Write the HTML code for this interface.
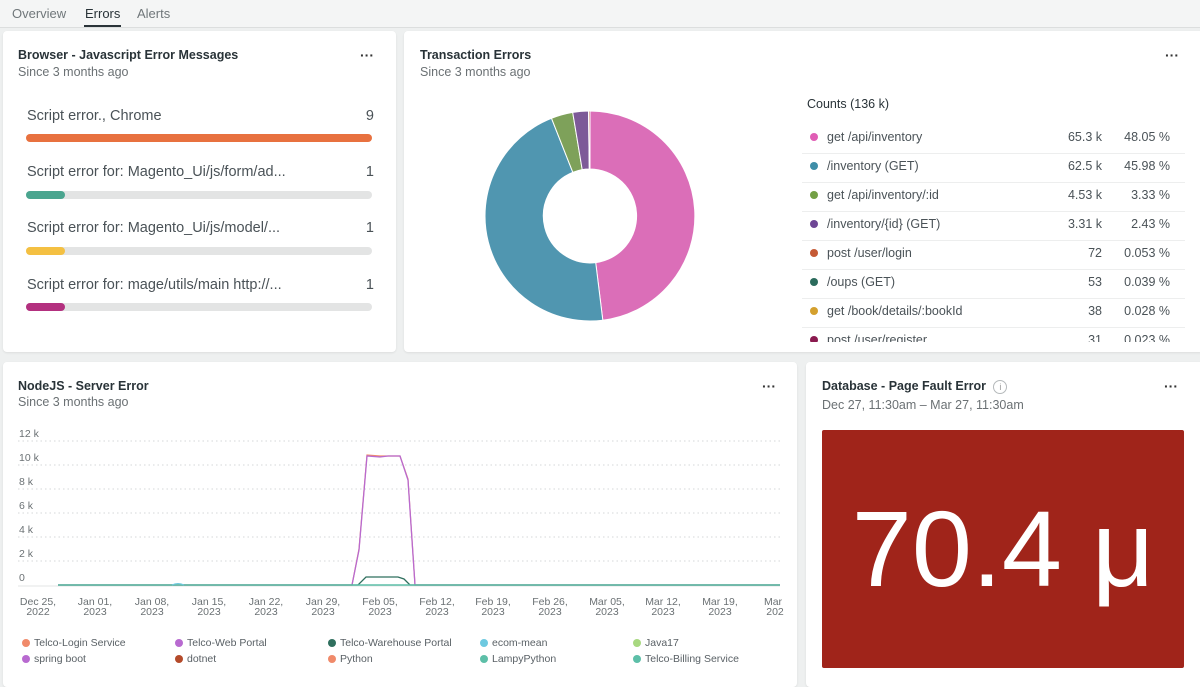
<!DOCTYPE html>
<html><head><meta charset="utf-8"><style>
body{margin:0;width:1200px;height:683px;background:#eef0f0;font-family:"Liberation Sans",sans-serif;position:relative;overflow:hidden;color:#293338}
.tabs{position:absolute;left:0;top:0;width:1200px;height:27px;background:#f4f5f5;border-bottom:1px solid #dcdede}
.tab{position:absolute;top:6px;font-size:13px;color:#70777a}
.card{position:absolute;background:#fff;border-radius:4px;box-shadow:0 1px 2px rgba(0,0,0,.08)}
.t{position:absolute;font-size:12.5px;font-weight:bold;color:#293338}
.s{position:absolute;font-size:12.5px;color:#6b7174}
.dots{position:absolute;font-size:14px;font-weight:bold;letter-spacing:0px;color:#333}
.row{position:absolute;left:24px;width:347px;font-size:14.5px;color:#4a5257}
.bar{position:absolute;left:26px;width:346px;height:8px;border-radius:4px;background:#e3e4e4}
.lg{position:absolute;font-size:12.5px;color:#4a5257;width:383px}
.lg div{position:relative;height:28px;border-bottom:1px solid #edeeee}
.lg i{position:absolute;left:8px;top:8px;width:8px;height:8px;border-radius:50%}
.lg span{position:absolute;top:5px}
.lg span.v{right:83px}
.lg span.p{right:15px}
.leg{position:absolute;font-size:10.5px;color:#5a6166}
.leg i{display:inline-block;width:8px;height:8px;border-radius:50%;margin-right:4px;vertical-align:-1px}
</style></head><body>
<div class="tabs">
<span class="tab" style="left:12px">Overview</span>
<span class="tab" style="left:85px;color:#293338">Errors</span>
<div style="position:absolute;left:84px;top:25px;width:37px;height:2px;background:#293338"></div>
<span class="tab" style="left:137px">Alerts</span>
</div>

<div class="card" style="left:3px;top:31px;width:393px;height:321px">
<div class="t" style="left:15px;top:17px">Browser - Javascript Error Messages</div>
<div class="s" style="left:15px;top:34px">Since 3 months ago</div>
<div class="dots" style="left:357px;top:16px">···</div>
<div class="row" style="top:77px">Script error., Chrome<span style="float:right">9</span></div>
<div class="bar" style="top:103px;background:#e8713f;left:23px"></div>
<div class="row" style="top:133px">Script error for: Magento_Ui/js/form/ad...<span style="float:right">1</span></div>
<div class="bar" style="top:160px;left:23px"><div style="width:39px;height:8px;border-radius:4px;background:#4aa58f"></div></div>
<div class="row" style="top:189px">Script error for: Magento_Ui/js/model/...<span style="float:right">1</span></div>
<div class="bar" style="top:216px;left:23px"><div style="width:39px;height:8px;border-radius:4px;background:#f4c042"></div></div>
<div class="row" style="top:246px">Script error for: mage/utils/main http://...<span style="float:right">1</span></div>
<div class="bar" style="top:272px;left:23px"><div style="width:39px;height:8px;border-radius:4px;background:#b3307f"></div></div>
</div>

<div class="card" style="left:404px;top:31px;width:800px;height:321px">
<div class="t" style="left:16px;top:17px">Transaction Errors</div>
<div class="s" style="left:16px;top:34px">Since 3 months ago</div>
<div class="dots" style="left:761px;top:16px">···</div>
</div>
<svg style="position:absolute;left:0;top:0" width="1200" height="683">
<g stroke="#fff" stroke-width="1">
<path d="M590,111 A105,105 0 0 1 602.8,320.2 L595.7,262.6 A47,47 0 0 0 590,169 Z" fill="#db6eb8"/>
<path d="M602.8,320.2 A105,105 0 0 1 551.5,118.3 L572.8,172.3 A47,47 0 0 0 595.7,262.6 Z" fill="#5096b0"/>
<path d="M551.5,118.3 A105,105 0 0 1 572.7,112.4 L582.2,169.6 A47,47 0 0 0 572.8,172.3 Z" fill="#7ea15a"/>
<path d="M572.7,112.4 A105,105 0 0 1 588.5,111 L589.3,169 A47,47 0 0 0 582.2,169.6 Z" fill="#7d5a98"/>
<path d="M588.5,111 A105,105 0 0 1 590,111 L590,169 A47,47 0 0 0 589.3,169 Z" fill="#c2664a"/>
</g>
</svg>
<div style="position:absolute;left:807px;top:97px;font-size:12.5px;color:#293338">Counts (136 k)</div>
<div class="lg" style="left:802px;top:125px">
<div><i style="background:#e05db5"></i><span style="left:25px">get /api/inventory</span><span class="v">65.3 k</span><span class="p">48.05 %</span></div>
<div><i style="background:#3f8ea8"></i><span style="left:25px">/inventory (GET)</span><span class="v">62.5 k</span><span class="p">45.98 %</span></div>
<div><i style="background:#74a045"></i><span style="left:25px">get /api/inventory/:id</span><span class="v">4.53 k</span><span class="p">3.33 %</span></div>
<div><i style="background:#6e4695"></i><span style="left:25px">/inventory/{id} (GET)</span><span class="v">3.31 k</span><span class="p">2.43 %</span></div>
<div><i style="background:#c55a35"></i><span style="left:25px">post /user/login</span><span class="v">72</span><span class="p">0.053 %</span></div>
<div><i style="background:#2b6b5c"></i><span style="left:25px">/oups (GET)</span><span class="v">53</span><span class="p">0.039 %</span></div>
<div><i style="background:#d4a02e"></i><span style="left:25px">get /book/details/:bookId</span><span class="v">38</span><span class="p">0.028 %</span></div>
<div style="height:14px;overflow:hidden;border:none"><i style="background:#8a1a4f"></i><span style="left:25px">post /user/register</span><span class="v">31</span><span class="p">0.023 %</span></div>
</div>

<div class="card" style="left:3px;top:362px;width:794px;height:325px">
<div class="t" style="left:15px;top:17px">NodeJS - Server Error</div>
<div class="s" style="left:15px;top:33px">Since 3 months ago</div>
<div class="dots" style="left:759px;top:16px">···</div>
</div>
<svg style="position:absolute;left:0;top:0" width="800" height="683" font-family="Liberation Sans, sans-serif" font-size="10.5" fill="#6b7174">
<g stroke="#d5d7d8" stroke-dasharray="1.5,3">
<line x1="18" x2="780" y1="441" y2="441"/><line x1="18" x2="780" y1="465" y2="465"/>
<line x1="18" x2="780" y1="489" y2="489"/><line x1="18" x2="780" y1="513" y2="513"/>
<line x1="18" x2="780" y1="537" y2="537"/><line x1="18" x2="780" y1="561" y2="561"/>
</g>
<line x1="18" x2="780" y1="586" y2="586" stroke="#e3e4e4"/>
<text x="19" y="437">12 k</text><text x="19" y="461">10 k</text><text x="19" y="485">8 k</text>
<text x="19" y="509">6 k</text><text x="19" y="533">4 k</text><text x="19" y="557">2 k</text><text x="19" y="581">0</text>
<g text-anchor="middle">
<text x="38" y="605">Dec 25,</text><text x="38" y="615">2022</text>
<text x="95" y="605">Jan 01,</text><text x="95" y="615">2023</text>
<text x="152" y="605">Jan 08,</text><text x="152" y="615">2023</text>
<text x="209" y="605">Jan 15,</text><text x="209" y="615">2023</text>
<text x="266" y="605">Jan 22,</text><text x="266" y="615">2023</text>
<text x="323" y="605">Jan 29,</text><text x="323" y="615">2023</text>
<text x="380" y="605">Feb 05,</text><text x="380" y="615">2023</text>
<text x="437" y="605">Feb 12,</text><text x="437" y="615">2023</text>
<text x="493" y="605">Feb 19,</text><text x="493" y="615">2023</text>
<text x="550" y="605">Feb 26,</text><text x="550" y="615">2023</text>
<text x="607" y="605">Mar 05,</text><text x="607" y="615">2023</text>
<text x="663" y="605">Mar 12,</text><text x="663" y="615">2023</text>
<text x="720" y="605">Mar 19,</text><text x="720" y="615">2023</text>
<text x="773" y="605">Mar</text><text x="775" y="615">202</text>
</g>
<polyline fill="none" stroke="#f08a6a" stroke-width="1.2" points="58,585 352,585 359,549 367,455 380,456 388,456 400,456 408,479 415,585 780,585"/>
<polyline fill="none" stroke="#b86ad0" stroke-width="1.3" points="58,585 352,585 359,550 367,456 380,457 388,456 400,456 408,480 415,585 780,585"/>
<polyline fill="none" stroke="#2f6f5e" stroke-width="1.3" points="58,585 358,585 366,577 398,577 404,579 410,585 780,585"/>
<polyline fill="none" stroke="#5dbfa8" stroke-width="1.5" points="58,585 780,585"/>
<path d="M172,585 Q178,582 184,585" stroke="#6ec9e0" fill="none"/>
</svg>
<div class="leg" style="left:22px;top:637px"><i style="background:#f08a6a"></i>Telco-Login Service</div>
<div class="leg" style="left:175px;top:637px"><i style="background:#b86ad0"></i>Telco-Web Portal</div>
<div class="leg" style="left:328px;top:637px"><i style="background:#2f6f5e"></i>Telco-Warehouse Portal</div>
<div class="leg" style="left:480px;top:637px"><i style="background:#6ec9e0"></i>ecom-mean</div>
<div class="leg" style="left:633px;top:637px"><i style="background:#a8d880"></i>Java17</div>
<div class="leg" style="left:22px;top:653px"><i style="background:#b86ad0"></i>spring boot</div>
<div class="leg" style="left:175px;top:653px"><i style="background:#b44a2a"></i>dotnet</div>
<div class="leg" style="left:328px;top:653px"><i style="background:#f08a6a"></i>Python</div>
<div class="leg" style="left:480px;top:653px"><i style="background:#5dbfa8"></i>LampyPython</div>
<div class="leg" style="left:633px;top:653px"><i style="background:#5dbfa8"></i>Telco-Billing Service</div>

<div class="card" style="left:806px;top:362px;width:398px;height:325px">
<div class="t" style="left:16px;top:17px">Database - Page Fault Error <span style="display:inline-block;width:12px;height:12px;border:1px solid #b5b9bb;border-radius:50%;font-size:9px;color:#999;text-align:center;line-height:12px;font-weight:normal;margin-left:4px">i</span></div>
<div class="s" style="left:16px;top:36px">Dec 27, 11:30am – Mar 27, 11:30am</div>
<div class="dots" style="left:358px;top:16px">···</div>
<div style="position:absolute;left:16px;top:68px;width:362px;height:238px;background:#a0241a;border-radius:2px;color:#fff;font-size:108px;line-height:238px;text-align:center">70.4 μ</div>
</div>
</body></html>
